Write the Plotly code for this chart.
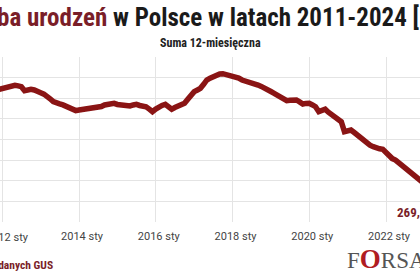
import plotly.graph_objects as go
import pandas as pd

# 12-month rolling sum of births in Poland (thousands), monthly from Dec 2011
start_month = "2011-12-01"
births_12m = [
    388.5,
    389.5, 390.5, 391.5, 392.0, 392.6, 392.0, 391.2, 387.3, 388.5, 388.7, 388.0, 387.3,
    385.4, 384.0, 382.2, 379.5, 376.7, 375.1, 374.5, 373.5, 372.0, 370.3, 368.6, 368.0,
    368.6, 369.0, 369.3, 369.8, 370.3, 370.5, 370.8, 372.0, 373.5, 374.0, 374.8, 375.1,
    374.0, 373.5, 373.0, 372.8, 372.5, 373.5, 374.1, 373.0, 372.5, 371.8, 369.5, 367.0,
    369.5, 371.8, 373.0, 374.1, 372.0, 369.3, 371.0, 372.5, 374.0, 375.1, 379.0, 383.2,
    386.4, 388.0, 389.6, 393.5, 397.7, 399.5, 400.9, 402.5, 403.5, 403.8, 403.0, 402.5,
    401.8, 400.9, 399.5, 397.7, 397.0, 396.0, 395.0, 394.0, 392.8, 391.5, 390.2, 389.0,
    386.5, 384.8, 383.0, 381.5, 379.5, 377.6, 378.0, 378.5, 378.3, 376.5, 374.4, 375.0,
    375.1, 373.5, 371.8, 367.0, 368.5, 369.3, 366.5, 363.8, 361.5, 359.5, 357.3, 347.6,
    348.0, 349.2, 347.0, 344.4, 341.5, 339.0, 336.3, 334.5, 333.0, 331.5, 331.0, 330.5,
    327.0, 323.3, 321.5, 320.1, 317.5, 315.3, 313.0, 310.4, 307.5, 304.0, 300.7, 298.5,
    296.0, 294.0, 291.5, 289.0, 287.0, 285.0, 283.0, 280.5, 278.5, 276.5, 274.5, 272.5,
    271.0, 269.3,
]
months = pd.date_range(start_month, periods=len(births_12m), freq="MS")

tick_years = [2012, 2014, 2016, 2018, 2020, 2022]
tick_suffix = " sty"
title_red = "Liczba urodzeń"
title_rest = " w Polsce w latach 2011-2024 ["
title_tail = "tys.]"
subtitle = "Suma 12-miesięczna"
source = "Źródło: opracowanie na podstawie danych GUS"

RED = "#8a1414"
MAROON = "#7a1e28"
FONT = "Roboto Condensed, Liberation Sans Narrow, DejaVu Sans Condensed, Roboto, sans-serif"
TICKFONT = dict(family="Roboto, sans-serif", size=11, color="#444444")

tick_dates = [pd.Timestamp(year=y, month=1, day=1) for y in tick_years]
tick_text = [f"{y}{tick_suffix}" for y in tick_years]

fig = go.Figure()
fig.add_trace(go.Scatter(
    x=months, y=births_12m, mode="lines",
    line=dict(color=RED, width=5.5, shape="linear"),
    hoverinfo="skip",
))

last_val = births_12m[-1]
fig.add_annotation(
    xref="paper", yref="y", x=395 / 420, y=last_val,
    xanchor="left", yanchor="middle",
    text="<b>" + f"{last_val:.1f}".replace(".", ",") + "</b>",
    showarrow=False, font=dict(family=FONT, size=13, color=MAROON),
)

# first tick label sits half outside the left edge, draw it at its tick position
fig.add_annotation(
    xref="x", yref="paper", x=tick_dates[0], y=-15 / 165,
    xanchor="center", yanchor="middle", xshift=5,
    text=tick_text[0], showarrow=False, font=TICKFONT,
)

fig.add_annotation(
    xref="paper", yref="paper", x=422 / 420, y=1 + 40 / 165,
    xanchor="right", yanchor="middle",
    text=f"<b><span style='color:{MAROON}'>{title_red}</span>{title_rest}</b>",
    showarrow=False, font=dict(family=FONT, size=25, color="#1a1a1a"),
)
fig.add_annotation(
    xref="paper", yref="paper", x=422 / 420, y=1 + 40 / 165,
    xanchor="left", yanchor="middle",
    text=f"<b>{title_tail}</b>",
    showarrow=False, font=dict(family=FONT, size=25, color="#1a1a1a"),
)
fig.add_annotation(
    xref="paper", yref="paper", x=0.5, y=1 + 14 / 165,
    xanchor="center", yanchor="middle",
    text=f"<b>{subtitle}</b>",
    showarrow=False, font=dict(family=FONT, size=12, color="#222222"),
)
fig.add_annotation(
    xref="paper", yref="paper", x=55 / 420, y=-43 / 165,
    xanchor="right", yanchor="middle",
    text=f"<b>{source}</b>",
    showarrow=False, font=dict(family=FONT, size=11.5, color=MAROON),
)
fig.add_annotation(
    xref="paper", yref="paper", x=345 / 420, y=-37 / 165,
    xanchor="left", yanchor="middle",
    text="F<span style='color:#b01c22;font-size:27px'><b>O</b></span>RSAL.pl",
    showarrow=False, font=dict(family="Liberation Serif, serif", size=23, color="#555555"),
)

fig.update_xaxes(
    range=["2011-12-11", "2022-11-20"],
    tickmode="array", tickvals=tick_dates,
    ticktext=[""] + tick_text[1:],
    showgrid=True, gridcolor="#e4e4e4", gridwidth=1,
    zeroline=False, showline=False,
    ticks="outside", ticklen=4, tickcolor="rgba(0,0,0,0)",
    tickfont=TICKFONT,
    ticklabelshift=3,
)
fig.update_yaxes(
    range=[260, 420], dtick=20, tick0=260,
    showgrid=True, gridcolor="#e4e4e4", gridwidth=1,
    zeroline=False, showline=False, showticklabels=False, ticks="",
)
fig.update_layout(
    width=420, height=280,
    margin=dict(l=0, r=0, t=57, b=58),
    paper_bgcolor="white", plot_bgcolor="white",
    showlegend=False,
)
fig.write_html("out.html")
